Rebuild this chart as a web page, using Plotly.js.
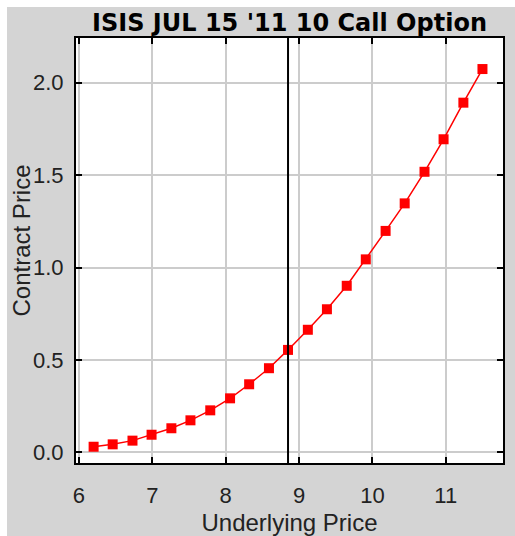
<!DOCTYPE html>
<html>
<head>
<meta charset="utf-8">
<script src="https://cdn.plot.ly/plotly-3.0.1.min.js"></script>
<style>
  html, body { margin: 0; padding: 0; background: #ffffff; width: 515px; height: 536px; overflow: hidden; }
  #chart { position: absolute; left: 7px; top: 7px; width: 508px; height: 529px; }
</style>
</head>
<body>
<div id="chart"></div>
<script>
// Data
const underlyingPrice = [6.20, 6.46, 6.73, 6.99, 7.26, 7.52, 7.79, 8.06, 8.32, 8.59, 8.85,
                         9.12, 9.38, 9.65, 9.91, 10.18, 10.44, 10.71, 10.97, 11.24, 11.50];
const contractPrice = [0.030, 0.043, 0.063, 0.095, 0.130, 0.173, 0.227, 0.292, 0.368, 0.455, 0.554,
                       0.663, 0.774, 0.901, 1.044, 1.198, 1.347, 1.518, 1.694, 1.892, 2.074];
const spotPrice = 8.85;
const xTickValues = [6, 7, 8, 9, 10, 11];
const yTickValues = [0.0, 0.5, 1.0, 1.5, 2.0];
const chartTitle = "ISIS JUL 15 '11 10 Call Option";
const xAxisTitle = "Underlying Price";
const yAxisTitle = "Contract Price";

const font = "Liberation Sans, Arial, sans-serif";
const titleFont = "DejaVu Sans, Liberation Sans, Arial, sans-serif";

const traces = [{
  x: underlyingPrice,
  y: contractPrice,
  type: 'scatter',
  mode: 'lines+markers',
  line: { color: '#ff0000', width: 1.5 },
  marker: { symbol: 'square', size: 10, color: '#ff0000' },
  hoverinfo: 'skip'
}];

const layout = {
  width: 508,
  height: 529,
  paper_bgcolor: '#d4d4d4',
  plot_bgcolor: '#ffffff',
  margin: { l: 69, r: 12, t: 31, b: 73 },
  showlegend: false,
  title: {
    text: '<b>' + chartTitle + '</b>',
    font: { family: titleFont, size: 24, color: '#000000' },
    xref: 'paper', x: 0.5, xanchor: 'center',
    yref: 'container', y: 1 - 16 / 529, yanchor: 'middle'
  },
  xaxis: {
    range: [5.96, 11.78],
    tickvals: xTickValues,
    ticktext: xTickValues.map(String),
    ticks: 'inside', ticklen: 6, tickwidth: 2, tickcolor: '#000000',
    showline: true, linecolor: '#000000', linewidth: 2, mirror: 'ticks',
    showgrid: true, gridcolor: '#cccccc', gridwidth: 2,
    zeroline: false,
    tickfont: { family: font, size: 22, color: '#222222' },
    ticklabelstandoff: 12,
    title: { text: xAxisTitle, font: { family: font, size: 24, color: '#222222' }, standoff: 8 }
  },
  yaxis: {
    range: [-0.058, 2.242],
    tickvals: yTickValues,
    ticktext: yTickValues.map(v => v.toFixed(1)),
    ticks: 'inside', ticklen: 6, tickwidth: 2, tickcolor: '#000000',
    showline: true, linecolor: '#000000', linewidth: 2, mirror: 'ticks',
    showgrid: true, gridcolor: '#cccccc', gridwidth: 2,
    zeroline: false,
    tickfont: { family: font, size: 22, color: '#222222' },
    ticklabelstandoff: 6
  },
  annotations: [{
    text: yAxisTitle,
    xref: 'paper', yref: 'paper', x: 0, y: 0.5,
    xanchor: 'center', yanchor: 'middle',
    xshift: -55, yshift: 10,
    textangle: -90, showarrow: false, borderpad: 0,
    font: { family: font, size: 24, color: '#222222' }
  }],
  shapes: [{
    type: 'line', xref: 'x', yref: 'paper',
    x0: spotPrice, x1: spotPrice, y0: 0, y1: 1,
    line: { color: '#000000', width: 2 }
  }]
};

Plotly.newPlot('chart', traces, layout, { displayModeBar: false, staticPlot: true });
</script>
</body>
</html>
